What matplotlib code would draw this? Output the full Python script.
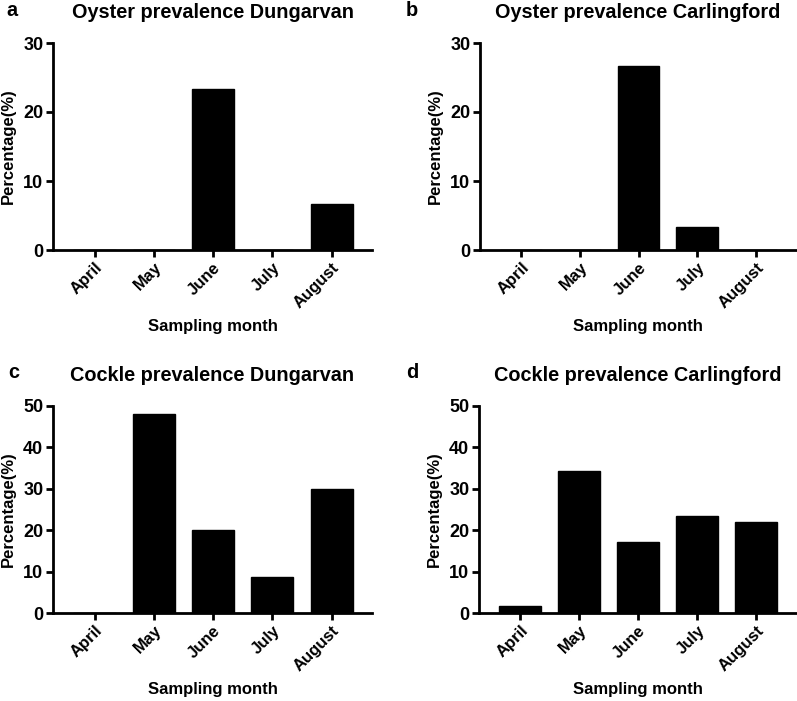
import matplotlib.pyplot as plt
import numpy as np

plt.rcParams['font.family'] = ['Liberation Sans', 'DejaVu Sans']
plt.rcParams['font.weight'] = 'bold'

# Data
months = ['April', 'May', 'June', 'July', 'August']
oyster_dungarvan = [0, 0, 23.3, 0, 6.7]
oyster_carlingford = [0, 0, 26.7, 3.3, 0]
cockle_dungarvan = [0, 48.0, 20.0, 8.7, 30.0]
cockle_carlingford = [1.7, 34.2, 17.2, 23.5, 22.1]

titles = ['Oyster prevalence Dungarvan', 'Oyster prevalence Carlingford',
          'Cockle prevalence Dungarvan', 'Cockle prevalence Carlingford']
letters = ['a', 'b', 'c', 'd']
series = [oyster_dungarvan, oyster_carlingford, cockle_dungarvan, cockle_carlingford]
ymax = [30, 30, 50, 50]

W, H = 797, 701
fig = plt.figure(figsize=(W / 100, H / 100), dpi=100)

# axes boxes in pixels: left, right, top, bottom
boxes = [(53, 372, 43, 250), (480, 796, 43, 250),
         (53, 372, 406, 613), (479, 796, 406, 613)]
letter_pos = [(6, 11), (406, 11), (8, 373), (406, 373)]

x = np.arange(len(months))
for i in range(4):
    l, r, t, b = boxes[i]
    ax = fig.add_axes([l / W, 1 - b / H, (r - l) / W, (b - t) / H])
    ax.bar(x, series[i], width=0.71, color='black', edgecolor='black')
    ax.set_xlim(-0.7, 4.68)
    ax.set_ylim(0, ymax[i])
    ax.set_yticks(np.arange(0, ymax[i] + 1, 10))
    ax.set_xticks(x)
    ax.set_xticklabels(months, rotation=45, ha='right', rotation_mode='anchor',
                       fontsize=12, fontweight='bold')
    for lab in ax.get_yticklabels():
        lab.set_fontsize(13)
        lab.set_fontweight('bold')
    ax.spines['top'].set_visible(False)
    ax.spines['right'].set_visible(False)
    for s in ['left', 'bottom']:
        ax.spines[s].set_linewidth(2.0)
    ax.tick_params(width=2.0, length=5, direction='out', pad=2)
    ax.set_ylabel('Percentage(%)', fontsize=12, fontweight='bold', labelpad=5)
    ax.set_xlabel('Sampling month', fontsize=12, fontweight='bold', labelpad=6)
    ax.set_title(titles[i], fontsize=14.3, fontweight='bold', pad=18)
    lx, ly = letter_pos[i]
    fig.text(lx / W, 1 - ly / H, letters[i], fontsize=14.3, fontweight='bold',
             va='center', ha='left')

plt.savefig('out.png', dpi=100)
